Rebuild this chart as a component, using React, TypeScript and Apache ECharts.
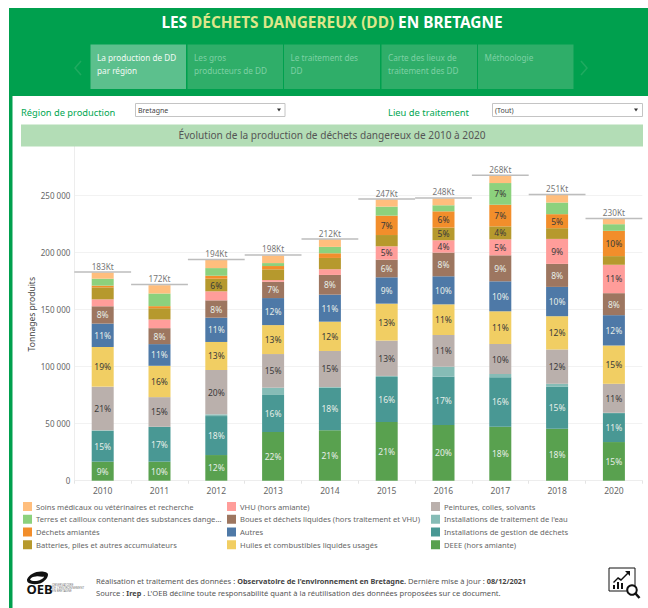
import React, { useEffect, useRef } from "react";
import * as echarts from "echarts";

const years = ["2010", "2011", "2012", "2013", "2014", "2015", "2016", "2017", "2018", "2020"];
const totalsKt = [183, 172, 194, 198, 212, 247, 248, 268, 251, 230];

const deee = [16700, 16700, 22500, 42700, 44200, 51500, 48800, 47400, 45600, 33900];
const gestion = [26900, 30400, 34200, 32500, 37400, 39500, 42700, 43300, 37100, 25400];
const traitementEau = [600, 200, 1500, 6400, 600, 900, 8500, 2900, 2300, 300];
const peintures = [38300, 26000, 38900, 29500, 31600, 31000, 27800, 26300, 30100, 25400];
const huiles = [34800, 27500, 24600, 25400, 25700, 32400, 26900, 28700, 29200, 33600];
const autres = [20500, 19000, 21300, 23700, 23700, 23100, 24600, 26300, 25700, 26600];
const boues = [15200, 14000, 15200, 14300, 17300, 15500, 20800, 22800, 20200, 19300];
const vhu = [6100, 7600, 7900, 1500, 5000, 11700, 10800, 14000, 21900, 24900];
const batteries = [10500, 9900, 11100, 9400, 9900, 9900, 11100, 11400, 9400, 7600];
const amiantes = [1500, 1800, 2600, 2900, 4100, 17000, 14300, 19000, 12300, 22200];
const terres = [6100, 11100, 6700, 2600, 5600, 7900, 5300, 19000, 10200, 5800];
const soins = [5500, 7300, 7600, 6700, 6700, 6400, 6100, 6400, 6700, 5300];

const _ = null;
const pctDeee = [9, 10, 12, 22, 21, 21, 20, 18, 18, 15];
const pctGestion = [15, 17, 18, 16, 18, 16, 17, 16, 15, 11];
const pctEau = [_, _, _, _, _, _, _, _, _, _];
const pctPeintures = [21, 15, 20, 15, 15, 13, 11, 10, 12, 11];
const pctHuiles = [19, 16, 13, 13, 12, 13, 11, 11, 12, 15];
const pctAutres = [11, 11, 11, 12, 11, 9, 10, 10, 10, 12];
const pctBoues = [8, 8, 8, 7, 8, 6, 8, 9, 8, 8];
const pctVhu = [_, _, _, _, _, 5, 4, 5, 9, 11];
const pctBatteries = [_, _, 6, _, _, _, 5, 4, _, _];
const pctAmiantes = [_, _, _, _, _, 7, 6, 7, 5, 10];
const pctTerres = [_, _, _, _, _, _, _, 7, _, _];
const pctSoins = [_, _, _, _, _, _, _, _, _, _];

const LIGHT = "#E6EEE8";
const DARK = "#3A3A3A";
const stacks = [
  { name: "DEEE (hors amiante)", color: "#59A14F", values: deee, pct: pctDeee, text: LIGHT },
  { name: "Installations de gestion de déchets", color: "#499894", values: gestion, pct: pctGestion, text: LIGHT },
  { name: "Installations de traitement de l'eau", color: "#86BCB6", values: traitementEau, pct: pctEau, text: DARK },
  { name: "Peintures, colles, solvants", color: "#BAB0AC", values: peintures, pct: pctPeintures, text: DARK },
  { name: "Huiles et combustibles liquides usagés", color: "#F1CE63", values: huiles, pct: pctHuiles, text: DARK },
  { name: "Autres", color: "#4E79A7", values: autres, pct: pctAutres, text: LIGHT },
  { name: "Boues et déchets liquides (hors traitement et VHU)", color: "#9D7660", values: boues, pct: pctBoues, text: LIGHT },
  { name: "VHU (hors amiante)", color: "#FF9D9A", values: vhu, pct: pctVhu, text: DARK },
  { name: "Batteries, piles et autres accumulateurs", color: "#B6992D", values: batteries, pct: pctBatteries, text: DARK },
  { name: "Déchets amiantés", color: "#F28E2B", values: amiantes, pct: pctAmiantes, text: DARK },
  { name: "Terres et cailloux contenant des substances dange...", color: "#8CD17D", values: terres, pct: pctTerres, text: DARK },
  { name: "Soins médicaux ou vétérinaires et recherche", color: "#FFBE7D", values: soins, pct: pctSoins, text: DARK },
];

const legendCol1 = [
  "Soins médicaux ou vétérinaires et recherche",
  "Terres et cailloux contenant des substances dange...",
  "Déchets amiantés",
  "Batteries, piles et autres accumulateurs",
];
const legendCol2 = [
  "VHU (hors amiante)",
  "Boues et déchets liquides (hors traitement et VHU)",
  "Autres",
  "Huiles et combustibles liquides usagés",
];
const legendCol3 = [
  "Peintures, colles, solvants",
  "Installations de traitement de l'eau",
  "Installations de gestion de déchets",
  "DEEE (hors amiante)",
];

const FONT = '"Noto Sans", sans-serif';
const GREEN = "#00A04E";
const Z = 100;

const SWIRL =
  "M0 8 C2 3 8 0 14 0 C18 0 21 1 21 3 C21 6 18 10 13 12 C9 13 4 13 1 11 C0 10 0 9 0 8 Z " +
  "M3 8 C5 10 10 10 14 8 C16 7 17 6 17 5 C14 6 12 4 9 5 C6 5 4 6 3 8 Z";
const CHART_ICON =
  "M2 17 L2 21 L4 21 L4 17 Z M6 14 L6 21 L8 21 L8 14 Z M10 15 L10 21 L12 21 L12 15 Z " +
  "M2 14 L7 9 L10 11 L16 5 L17 6 L10 13 L7 11 L3 15 Z M14 3 L19 3 L19 8 Z";
echarts.graphic.registerShape("oebSwirl", echarts.graphic.extendPath(SWIRL, {}) as any);
echarts.graphic.registerShape("chartIcon", echarts.graphic.extendPath(CHART_ICON, {}) as any);

function rect(x: number, y: number, w: number, h: number, fill: string, stroke?: string) {
  return { type: "rect", z: Z, shape: { x, y, width: w, height: h }, style: { fill, stroke, lineWidth: stroke ? 1 : 0 } };
}
function text(t: string, x: number, y: number, size: number, fill: string, extra: any = {}) {
  return {
    type: "text",
    z: Z + 1,
    x,
    y,
    style: { text: t, fontFamily: FONT, fontSize: size, fill, verticalAlign: "middle", align: "left", ...extra },
  };
}

const tabs = [
  { x: 90.5, w: 95.5, fill: "#5CC08D", color: "#F2FAF5", lines: ["La production de DD", "par région"] },
  { x: 187.5, w: 95.5, fill: "#2FAE69", color: "#7ED0A4", lines: ["Les gros", "producteurs de DD"] },
  { x: 284, w: 96, fill: "#2FAE69", color: "#7ED0A4", lines: ["Le traitement des", "DD"] },
  { x: 381.5, w: 95.5, fill: "#2FAE69", color: "#7ED0A4", lines: ["Carte des lieux de", "traitement des DD"] },
  { x: 478, w: 95.5, fill: "#2FAE69", color: "#7ED0A4", lines: ["Méthoologie"] },
];

function buildGraphics() {
  const els: any[] = [];
  els.push(rect(9, 8, 639, 88, GREEN));
  els.push(rect(9, 96, 3.5, 512, GREEN));
  els.push({
    type: "text",
    z: Z + 1,
    x: 332,
    y: 22,
    style: {
      text: "{a|LES }{b|DÉCHETS DANGEREUX (DD)}{a| EN BRETAGNE}",
      align: "center",
      verticalAlign: "middle",
      rich: {
        a: { fill: "#FFFFFF", fontFamily: FONT, fontWeight: "bold", fontSize: 15.4 },
        b: { fill: "#DDE68A", fontFamily: FONT, fontWeight: "bold", fontSize: 15.4 },
      },
    },
  });
  tabs.forEach((t) => {
    els.push(rect(t.x, 44.5, t.w, 44.5, t.fill));
    t.lines.forEach((l, i) => els.push(text(l, t.x + 6.5, 57.5 + i * 12.5, 8.2, t.color)));
  });
  els.push({ type: "polyline", z: Z, shape: { points: [[81, 61], [75, 68], [81, 75]] }, style: { stroke: "#1FAA60", lineWidth: 1.5, fill: "none" } });
  els.push({ type: "polyline", z: Z, shape: { points: [[581, 61], [587, 68], [581, 75]] }, style: { stroke: "#1FAA60", lineWidth: 1.5, fill: "none" } });

  els.push(text("Région de production", 21, 112, 9.3, "#00A651"));
  els.push(text("Lieu de traitement", 388, 112, 9.4, "#00A651"));
  els.push(rect(135.5, 103.5, 149.5, 13, "#FFFFFF", "#C4C4C4"));
  els.push(rect(492.5, 103.5, 150, 13, "#FFFFFF", "#C4C4C4"));
  els.push(text("Bretagne", 138, 110, 7, "#444444"));
  els.push(text("(Tout)", 495, 110, 7, "#444444"));
  els.push({ type: "polygon", z: Z, shape: { points: [[277, 108.5], [281, 108.5], [279, 111.5]] }, style: { fill: "#333333" } });
  els.push({ type: "polygon", z: Z, shape: { points: [[634, 108.5], [638, 108.5], [636, 111.5]] }, style: { fill: "#333333" } });

  els.push(rect(21, 124.5, 622, 22, "#B3DDB6"));
  els.push(text("Évolution de la production de déchets dangereux de 2010 à 2020", 332, 135, 10.1, "#555555", { align: "center" }));

  els.push({ type: "oebSwirl", z: Z, x: 27, y: 571.5, scaleX: 1, scaleY: 1, style: { fill: "#111111" } });
  els.push(text("OEB", 26.5, 589, 13, "#111111", { fontWeight: "bold" }));
  ["OBSERVATOIRE", "DE L'ENVIRONNEMENT", "EN BRETAGNE"].forEach((l, i) =>
    els.push(text(l, 52, 584.5 + i * 3.2, 3, "#777777"))
  );

  els.push({
    type: "text",
    z: Z + 1,
    x: 96,
    y: 581,
    style: {
      text: "{n|Réalisation et traitement des données : }{b|Observatoire de l'environnement en Bretagne.}{n| Dernière mise à jour : }{b|08/12/2021}",
      verticalAlign: "middle",
      rich: {
        n: { fill: "#555555", fontFamily: FONT, fontSize: 7.6 },
        b: { fill: "#444444", fontFamily: FONT, fontSize: 7.3, fontWeight: "bold" },
      },
    },
  });
  els.push({
    type: "text",
    z: Z + 1,
    x: 96,
    y: 593,
    style: {
      text: "{n|Source : }{b|Irep}{n| . L'OEB décline toute responsabilité quant à la réutilisation des données proposées sur ce document.}",
      verticalAlign: "middle",
      rich: {
        n: { fill: "#555555", fontFamily: FONT, fontSize: 7.6 },
        b: { fill: "#444444", fontFamily: FONT, fontSize: 7.3, fontWeight: "bold" },
      },
    },
  });

  els.push(rect(609, 568, 26, 23, "#FFFFFF", "#111111"));
  els.push({ type: "chartIcon", z: Z + 1, x: 611, y: 568, scaleX: 1, scaleY: 1, style: { fill: "#111111" } });
  els.push({ type: "circle", z: Z + 2, shape: { cx: 632, cy: 590, r: 4.8 }, style: { fill: "#FFFFFF", stroke: "#111111", lineWidth: 2 } });
  els.push({ type: "line", z: Z + 2, shape: { x1: 635.5, y1: 593.5, x2: 639.5, y2: 598 }, style: { stroke: "#111111", lineWidth: 2.5 } });
  return els;
}

const legendBase = {
  orient: "vertical",
  itemWidth: 9,
  itemHeight: 9,
  itemGap: 3.75,
  icon: "rect",
  selectedMode: false,
  textStyle: { fontFamily: FONT, fontSize: 7.6, color: "#666666", lineHeight: 9, padding: [0, 0, 0, -1] },
  padding: 0,
};

function totalsRenderItem(params: any, api: any) {
  const v = api.value(1);
  const x = api.value(0);
  const [cx, cy] = api.coord([x, v]);
  const band = api.size([1, 0])[0];
  return {
    type: "group",
    children: [
      {
        type: "line",
        shape: { x1: cx - band / 2, y1: cy, x2: cx + band / 2, y2: cy },
        style: { stroke: "#BDBDBD", lineWidth: 1.5 },
      },
      {
        type: "text",
        x: cx,
        y: cy - 6,
        style: {
          text: `${totalsKt[params.dataIndex]}Kt`,
          fontFamily: FONT,
          fontSize: 8.2,
          fill: "#777777",
          align: "center",
          verticalAlign: "middle",
        },
      },
    ],
  };
}

export default function App() {
  const ref = useRef<HTMLDivElement>(null);
  useEffect(() => {
    const chart = echarts.init(ref.current!, undefined, { renderer: "svg" });
    const barSeries = stacks.map((s) => ({
      type: "bar",
      name: s.name,
      stack: "total",
      barWidth: 22,
      itemStyle: { color: s.color },
      data: s.values,
      label: {
        show: true,
        position: "inside",
        fontFamily: FONT,
        fontSize: 8.5,
        color: s.text,
        formatter: (p: any) => (s.pct[p.dataIndex] == null ? "" : `${s.pct[p.dataIndex]}%`),
      },
    }));
    chart.setOption({
      animation: false,
      backgroundColor: "#FFFFFF",
      grid: { left: 74.3, right: 648 - 642.3, top: 138.7, bottom: 608 - 480.7, containLabel: false },
      xAxis: {
        type: "category",
        data: years,
        axisLine: { lineStyle: { color: "#EDEDED" } },
        axisTick: { show: true, alignWithLabel: false, length: 3, lineStyle: { color: "#E4E4E4" } },
        axisLabel: { fontFamily: FONT, fontSize: 8.5, color: "#666666", margin: 5 },
      },
      yAxis: {
        type: "value",
        min: 0,
        max: 300000,
        interval: 50000,
        name: "Tonnages produits",
        nameLocation: "middle",
        nameMoveOverlap: false,
        nameGap: 38,
        nameTextStyle: { fontFamily: FONT, fontSize: 8.5, color: "#444444", padding: [0, 9, 0, 0] },
        axisLine: { show: true, lineStyle: { color: "#EDEDED" } },
        axisTick: { show: false },
        axisLabel: {
          showMaxLabel: false,
          fontFamily: FONT,
          fontSize: 8,
          color: "#666666",
          margin: 4,
          formatter: (v: number) => String(v).replace(/\B(?=(\d{3})+$)/g, " "),
        },
        splitLine: { show: true, lineStyle: { color: "#F2F2F2" } },
      },
      legend: [
        { ...legendBase, left: 23, top: 502, data: legendCol1 },
        { ...legendBase, left: 227, top: 502, data: legendCol2 },
        { ...legendBase, left: 431, top: 502, data: legendCol3 },
      ],
      graphic: { elements: buildGraphics() },
      series: [
        ...barSeries,
        {
          type: "custom",
          name: "Total",
          z: 5,
          silent: true,
          encode: { x: 0, y: 1 },
          data: years.map((y, i) => [i, totalsKt[i] * 1000]),
          renderItem: totalsRenderItem,
        },
      ],
    });
    return () => chart.dispose();
  }, []);
  return (
    <div
      ref={ref}
      style={{ position: "fixed", left: 0, top: 0, width: 648, height: 608, background: "#fff" }}
    />
  );
}
